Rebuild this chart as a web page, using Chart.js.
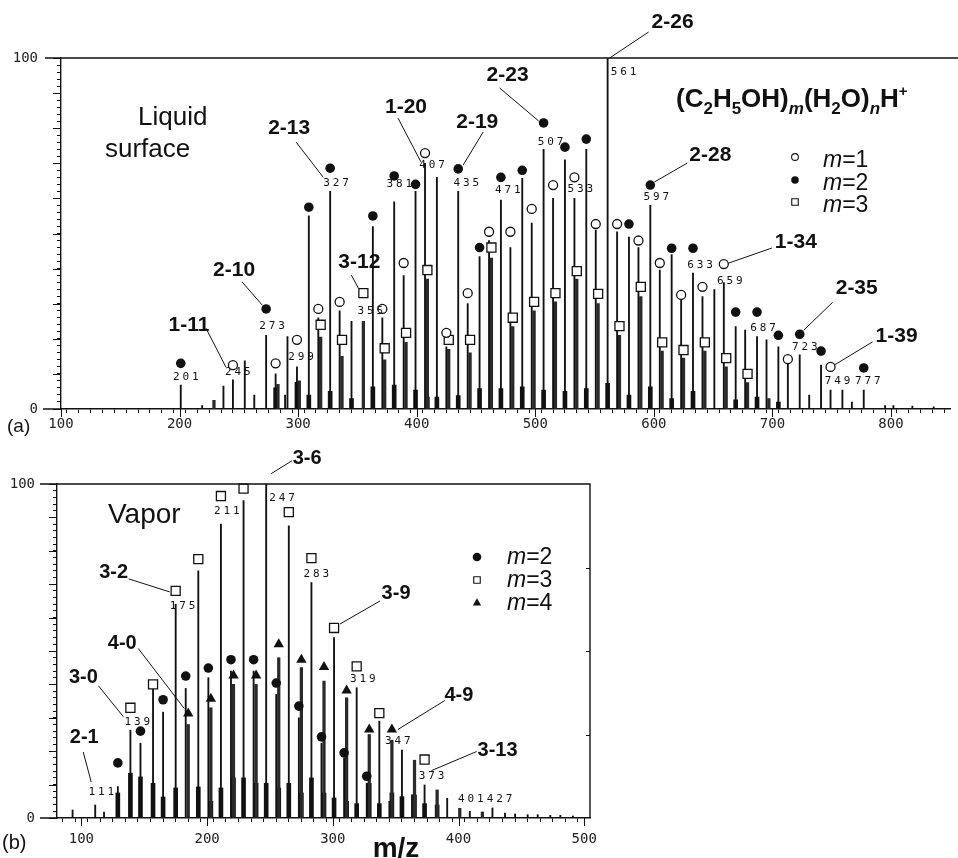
<!DOCTYPE html>
<html>
<head>
<meta charset="utf-8">
<title>(C2H5OH)m(H2O)nH+ spectra</title>
<script src="https://cdn.jsdelivr.net/npm/chart.js@4.4.1/dist/chart.umd.min.js"></script>
<style>
	html, body { margin: 0; padding: 0; background: #fff; }
	#wrap { position: relative; width: 958px; height: 858px; overflow: hidden; }
	#liquid { position: absolute; left: 0; top: 0; }
	#vapor { position: absolute; left: 0; top: 440px; }
</style>
</head>
<body>
<div id="wrap">
	<canvas id="liquid" width="958" height="440"></canvas>
	<canvas id="vapor" width="958" height="418"></canvas>
</div>
<script>
'use strict';

/* ---------- (a) liquid surface ---------- */
const liqXLabels = [100, 200, 300, 400, 500, 600, 700, 800];
const liqYLabels = [0, 100];

// symbols: m/z and height where the symbol sits
const liqM1Mass = [245, 281, 299, 317, 335, 371, 389, 407, 425, 443, 461, 479, 497, 515, 533, 551, 569, 587, 605, 623, 641, 659, 713, 749];
const liqM1Mark = [12.5, 13, 19.7, 28.5, 30.5, 28.5, 41.6, 72.9, 21.7, 33, 50.5, 50.5, 57, 63.8, 66, 52.7, 52.7, 48, 41.6, 32.5, 34.8, 41.3, 14.2, 12];
const liqM2Mass = [201, 273, 309, 327, 363, 381, 399, 435, 453, 471, 489, 507, 525, 543, 561, 579, 597, 615, 633, 669, 687, 705, 723, 741, 777];
const liqM2Mark = [13, 28.5, 57.5, 68.6, 55, 66.4, 64, 68.4, 46, 66, 68, 81.5, 74.6, 76.9, 103.7, 52.7, 63.8, 45.8, 45.8, 27.6, 27.6, 21, 21.3, 16.5, 11.7];
const liqM3Mass = [319, 337, 355, 373, 391, 409, 427, 445, 463, 481, 499, 517, 535, 553, 571, 589, 607, 625, 643, 661, 679];
const liqM3Mark = [24, 19.7, 33, 17.3, 21.7, 39.6, 19.7, 19.7, 46, 26, 30.5, 33, 39.3, 32.8, 23.6, 34.8, 19, 16.8, 19, 14.5, 10];

// sticks (peak tops), marked or not
const liqStickM1Mass = [245, 263, 281, 299, 317, 335, 371, 389, 407, 425, 443, 461, 479, 497, 515, 533, 551, 569, 587, 605, 623, 641, 659, 677, 695, 713, 731, 749, 767];
const liqStickM1 = [8.3, 4, 10, 12, 26, 28, 26, 38, 70, 17.7, 30, 48, 46, 53, 60, 60, 51, 50.5, 46, 39.6, 31, 32, 36, 22.5, 19.7, 13, 4, 5.4, 2];
const liqStickM2Mass = [201, 219, 237, 255, 273, 291, 309, 327, 345, 363, 381, 399, 417, 435, 453, 471, 489, 507, 525, 543, 561, 579, 597, 615, 633, 651, 669, 687, 705, 723, 741, 759, 777, 795];
const liqStickM2 = [6.8, 1, 6.5, 13.7, 21, 20.6, 55, 62, 25, 52, 59, 62, 66, 62, 43.4, 59.5, 65.7, 74, 71, 74, 100, 49, 58, 44, 38.7, 34, 23.5, 20.6, 17.7, 15.4, 12.5, 5.4, 5.4, 1];
const liqStickM3Mass = [229, 283, 301, 319, 337, 355, 373, 391, 409, 427, 445, 463, 481, 499, 517, 535, 553, 571, 589, 607, 625, 643, 661, 679, 697];
const liqStickM3 = [2.5, 7, 8, 20.5, 15, 25, 14, 19, 37, 17, 16, 43, 23.5, 28, 30.5, 37, 30, 21, 32, 16.5, 14.5, 16.5, 12, 7.5, 3];
const liqOtherMass = [289, 802, 818, 836];
const liqOther = [4, 1, 0.8, 0.6];
const liqFootMass = [281, 299, 309, 327, 345, 363, 381, 399, 409, 417, 435, 453, 471, 489, 507, 525, 543, 561, 579, 597, 615, 633, 669, 687, 705];
const liqFoot = [6, 7.6, 4, 5, 3, 6.3, 6.8, 5.4, 3.4, 3.4, 3.8, 5.8, 5.8, 6.3, 5.4, 5, 5.8, 7.3, 4, 6.3, 3, 5, 2.6, 3.4, 2];

/* ---------- (b) vapor ---------- */
const vapXLabels = [100, 200, 300, 400, 500];
const vapYLabels = [0, 100];

const vapM2Mass = [129, 147, 165, 183, 201, 219, 237, 255, 273, 291, 309, 327];
const vapM2Mark = [16.5, 26, 35.4, 42.5, 44.9, 47.4, 47.4, 40.4, 33.5, 24.3, 19.5, 12.5];
const vapM3Mass = [139, 157, 175, 193, 211, 229, 247, 265, 283, 301, 319, 337, 373];
const vapM3Mark = [33, 40, 68, 77.5, 96.4, 98.6, 103.4, 91.6, 77.8, 56.9, 45.4, 31.4, 17.5];
const vapM4Mass = [185, 203, 221, 239, 257, 275, 293, 311, 329, 347];
const vapM4Mark = [31.3, 35.7, 42.7, 42.7, 52, 47.4, 45.2, 38.2, 26.5, 26.5];

const vapStickM2Mass = [111, 129, 147, 165, 183, 201, 219, 237, 255, 273, 291, 309, 327, 345, 363];
const vapStickM2 = [3.9, 9.4, 22.4, 31.7, 38.8, 42, 44, 44, 37, 30, 22.4, 18, 10.4, 5, 6.9];
const vapStickM3Mass = [139, 157, 175, 193, 211, 229, 247, 265, 283, 301, 319, 337, 355, 373, 391, 409, 427];
const vapStickM3 = [26.3, 38.5, 64, 74, 88, 95, 100, 87.5, 70.5, 54, 39, 29, 20.3, 9.9, 5.9, 2, 3];
const vapStickM4Mass = [185, 203, 221, 239, 257, 275, 293, 311, 329, 347, 365, 383, 401, 419];
const vapStickM4 = [28, 33, 40, 40, 48, 45, 41, 36, 25, 23.3, 17.3, 8.4, 2.9, 1.8];
const vapOtherMass = [93, 118, 437, 445, 455, 463, 473, 481, 491];
const vapOther = [2.4, 1.8, 1.5, 1.2, 1, 1, 0.8, 0.8, 0.6];
const vapFootMass = [129, 139, 147, 157, 165, 175, 193, 203, 211, 221, 229, 239, 247, 257, 265, 275, 283, 293, 301, 311, 319, 329, 337, 347, 355, 365, 373, 383];
const vapFoot = [7.5, 13.4, 12.3, 10.4, 6.3, 9, 9.3, 5, 9, 12, 12, 10.4, 10.4, 9, 10.4, 7.5, 12, 7.5, 6, 5, 4.3, 10.4, 4.3, 7.5, 6.4, 6.9, 4.3, 3.9];

/* ---------- labels ---------- */
// [text, series, m/z, dx, dy]  (offsets in px from the symbol)
const liqMassLabels = [
	['201', 'm2', 201, 5, 14], ['245', 'm1', 245, 5, 7], ['273', 'm2', 273, 6, 17], ['299', 'm1', 299, 4, 17],
	['327', 'm2', 327, 6, 15], ['355', 'm3', 355, 7, 18], ['381', 'm2', 381, 5, 8], ['407', 'm1', 407, 7, 12],
	['435', 'm2', 435, 8, 14], ['471', 'm2', 471, 7, 13], ['507', 'm2', 507, 7, 19], ['533', 'm1', 533, 6, 12],
	['561', 'm2', 561, 16, 27], ['597', 'm2', 597, 6, 12], ['633', 'm2', 633, 7, 17], ['659', 'm1', 659, 6, 17],
	['687', 'm2', 687, 6, 16], ['723', 'm2', 723, 5, 13], ['749', 'm1', 749, 7, 14], ['777', 'm2', 777, 4, 13]
];
const vapMassLabels = [
	['111', 's2', 111, 6, -13], ['139', 'm3', 139, 7, 14], ['175', 'm3', 175, 7, 15], ['211', 'm3', 211, 6, 15],
	['247', 'm3', 247, 16, 25], ['283', 'm3', 283, 5, 16], ['319', 'm3', 319, 6, 13], ['347', 'm4', 347, 6, 12],
	['373', 'm3', 373, 7, 17], ['401', 's4', 401, 11, -9], ['427', 's3', 427, 7, -9]
];

// [text, series, m/z, label dx, dy, line x1, y1, x2, y2]
const liqNotes = [
	['1-11', 'm1', 245, -44, -40, -27, -37, -7, 2],
	['2-10', 'm2', 273, -32, -39, -24, -27, -4, -4],
	['2-13', 'm2', 327, -41, -40, -34, -26, -7, 9],
	['3-12', 'm3', 355, -4, -31, -12, -18, -5, -5],
	['1-20', 'm1', 407, -19, -46, -27, -35, -4, 9],
	['2-19', 'm2', 435, 19, -47, 25, -37, 5, -4],
	['2-23', 'm2', 507, -36, -48, -44, -35, -5, -2],
	['2-26', 'm2', 561, 65, -23, 41, -13, 2, 13],
	['2-28', 'm2', 597, 60, -30, 37, -22, 4, -3],
	['1-34', 'm1', 659, 72, -22, 48, -16, 5, -1],
	['2-35', 'm2', 723, 57, -46, 33, -32, 4, -4],
	['1-39', 'm1', 749, 66, -31, 42, -25, 4, -2]
];
const vapNotes = [
	['2-1', 's2', 111, -11, -67, -12, -53, -4, -23],
	['3-0', 'm3', 139, -47, -30, -32, -22, -7, 9],
	['3-2', 'm3', 175, -62, -18, -47, -12, -6, 1],
	['4-0', 'm4', 185, -66, -70, -50, -65, -4, -5],
	['3-6', 'm3', 247, 41, -14, 26, -12, 5, 1],
	['3-9', 'm3', 301, 62, -34, 46, -27, 6, -4],
	['4-9', 'm4', 347, 67, -34, 53, -29, 6, 0],
	['3-13', 'm3', 373, 73, -9, 52, -8, 7, 11]
];

const SANS = '"Liberation Sans", Arial, sans-serif';
const MONO = '"DejaVu Sans Mono", monospace';
const INK = '#111';

const openCircle = { pointStyle: 'circle', pointRadius: 4.5, pointBackgroundColor: '#fff', pointBorderColor: INK, pointBorderWidth: 1.3 };
const dot = { pointStyle: 'circle', pointRadius: 4.8, pointBackgroundColor: INK, pointBorderColor: INK, pointBorderWidth: 0 };
const openSquare = { pointStyle: 'rect', pointRadius: 6.4, pointBackgroundColor: '#fff', pointBorderColor: INK, pointBorderWidth: 1.3 };
const triangle = { pointStyle: 'triangle', pointRadius: 6, pointBackgroundColor: INK, pointBorderColor: INK, pointBorderWidth: 0 };

/**
 * Zip m/z and heights into {x, y} points
 */
function points(masses, values) {
	return masses.map((m, i) => ({ x: m, y: values[i] }));
}

/**
 * Vertical sticks drawn as thin bars on the linear m/z axis
 */
function stickSet(masses, values, width, color) {
	return {
		type: 'bar',
		data: points(masses, values),
		barThickness: width,
		backgroundColor: color,
		borderWidth: 0,
		grouped: false,
		order: 2
	};
}

/**
 * Symbols above the peaks
 */
function markSet(masses, values, style) {
	return Object.assign({
		type: 'scatter',
		data: points(masses, values),
		showLine: false,
		clip: false,
		order: 0,
		pointHoverRadius: style.pointRadius
	}, style);
}

/**
 * Axis setup: Chart.js draws minor ticks and the labels, box sizes are fixed
 */
function axes(o) {
	const tickFont = { family: MONO, size: 14 };
	return {
		x: {
			type: 'linear',
			min: o.xMin,
			max: o.xMax,
			offset: false,
			afterFit: s => { s.height = o.xHeight; },
			border: { color: INK, width: 1.4 },
			grid: { drawOnChartArea: false, tickLength: 4, color: INK, lineWidth: 1 },
			ticks: {
				stepSize: 10, autoSkip: false, maxRotation: 0, includeBounds: false,
				padding: o.xPad, color: '#222', font: tickFont,
				callback: v => o.xLabels.includes(v) ? String(v) : ''
			}
		},
		y: {
			type: 'linear',
			min: 0,
			max: 100,
			afterFit: s => { s.width = o.yWidth; },
			border: { color: INK, width: 1.4 },
			grid: { drawOnChartArea: false, tickLength: 4, color: INK, lineWidth: 1 },
			ticks: {
				stepSize: 2, autoSkip: false, includeBounds: false,
				padding: o.yPad, color: '#222', font: tickFont,
				callback: v => o.yLabels.includes(v) ? String(v) : ''
			}
		}
	};
}

/**
 * Spaced-out mass number like the instrument print-out
 */
function massText(ctx, text, cx, cy) {
	const pitch = 9.5;
	ctx.font = '11px ' + MONO;
	ctx.textAlign = 'center';
	ctx.textBaseline = 'middle';
	const start = cx - (text.length - 1) * pitch / 2;
	for (let i = 0; i < text.length; i++) {
		ctx.fillText(text[i], start + i * pitch, cy);
	}
}

/**
 * m=k legend row, italic m
 */
function legendRow(ctx, style, sx, sy, tx, ty, k) {
	ctx.fillStyle = style.fill;
	ctx.strokeStyle = INK;
	ctx.lineWidth = style.borderWidth;
	Chart.helpers.drawPoint(ctx, { pointStyle: style.pointStyle, radius: style.radius, rotation: 0, borderWidth: style.borderWidth }, sx, sy);
	ctx.fillStyle = INK;
	ctx.textAlign = 'left';
	ctx.textBaseline = 'alphabetic';
	ctx.font = 'italic 23px ' + SANS;
	ctx.fillText('m', tx, ty);
	const w = ctx.measureText('m').width;
	ctx.font = '23px ' + SANS;
	ctx.fillText('=' + k, tx + w, ty);
}

/**
 * Frame, long ticks, peak labels and text for one panel
 */
function decorPlugin(panel) {
	return {
		id: 'decor',
		afterDraw(chart) {
			const ctx = chart.ctx;
			const xs = chart.scales.x;
			const ys = chart.scales.y;
			const a = chart.chartArea;
			const anchor = (key, m) => {
				const [ms, vs] = panel.series[key];
				return [xs.getPixelForValue(m), ys.getPixelForValue(vs[ms.indexOf(m)])];
			};

			ctx.save();
			ctx.strokeStyle = INK;
			ctx.fillStyle = INK;

			// long ticks every 10 % and every 100 m/z
			ctx.lineWidth = 1;
			ctx.beginPath();
			for (let v = 0; v <= 100; v += 10) {
				const y = Math.round(ys.getPixelForValue(v)) + 0.5;
				ctx.moveTo(a.left - 8, y);
				ctx.lineTo(a.left, y);
			}
			panel.xLabels.forEach(m => {
				const x = Math.round(xs.getPixelForValue(m)) + 0.5;
				ctx.moveTo(x, a.bottom);
				ctx.lineTo(x, a.bottom + 8);
			});
			ctx.stroke();

			panel.frame(ctx, a, ys);

			// leader lines and cluster labels
			ctx.lineWidth = 1;
			panel.notes.forEach(([text, key, m, lx, ly, x1, y1, x2, y2]) => {
				const [px, py] = anchor(key, m);
				ctx.beginPath();
				ctx.moveTo(px + x1, py + y1);
				ctx.lineTo(px + x2, py + y2);
				ctx.stroke();
				ctx.font = 'bold ' + panel.noteSize + 'px ' + SANS;
				ctx.textAlign = 'center';
				ctx.textBaseline = 'middle';
				ctx.fillText(text, px + lx, py + ly);
			});

			panel.massLabels.forEach(([text, key, m, dx, dy]) => {
				const [px, py] = anchor(key, m);
				massText(ctx, text, px + dx, py + dy);
			});

			panel.text(ctx);
			ctx.restore();
		}
	};
}

/**
 * Build one panel
 */
function makePanel(id, datasets, opts, panel) {
	return new Chart(document.getElementById(id), {
		type: 'scatter',
		data: { datasets: datasets },
		options: {
			responsive: false,
			animation: false,
			events: [],
			layout: { padding: opts.padding },
			plugins: { legend: { display: false }, tooltip: { enabled: false } },
			scales: axes(opts)
		},
		plugins: [decorPlugin(panel)]
	});
}

makePanel('liquid', [
	markSet(liqM1Mass, liqM1Mark, openCircle),
	markSet(liqM2Mass, liqM2Mark, dot),
	markSet(liqM3Mass, liqM3Mark, openSquare),
	stickSet(liqStickM1Mass, liqStickM1, 1.2, INK),
	stickSet(liqStickM2Mass, liqStickM2, 1.2, INK),
	stickSet(liqStickM3Mass, liqStickM3, 2.6, '#2a2a2a'),
	stickSet(liqOtherMass, liqOther, 1.2, INK),
	stickSet(liqFootMass, liqFoot, 4, INK)
], {
	xMin: 100, xMax: 850, xLabels: liqXLabels, yLabels: liqYLabels,
	xHeight: 31, yWidth: 61, xPad: 3, yPad: 19,
	padding: { top: 58, right: 3, bottom: 0, left: 0 }
}, {
	xLabels: liqXLabels,
	series: { m1: [liqM1Mass, liqM1Mark], m2: [liqM2Mass, liqM2Mark], m3: [liqM3Mass, liqM3Mark] },
	notes: liqNotes,
	noteSize: 21,
	massLabels: liqMassLabels,
	frame(ctx, a) {
		ctx.lineWidth = 1.4;
		ctx.beginPath();
		ctx.moveTo(45, a.top);
		ctx.lineTo(958, a.top);
		ctx.moveTo(43, a.bottom);
		ctx.lineTo(a.left, a.bottom);
		ctx.stroke();
	},
	text(ctx) {
		ctx.textAlign = 'left';
		ctx.textBaseline = 'alphabetic';
		ctx.font = '26px ' + SANS;
		ctx.fillText('Liquid', 138, 125);
		ctx.fillText('surface', 105, 157);

		// (C2H5OH)m(H2O)nH+
		const parts = [['(C', 'n'], ['2', 's'], ['H', 'n'], ['5', 's'], ['OH)', 'n'], ['m', 'si'],
			['(H', 'n'], ['2', 's'], ['O)', 'n'], ['n', 'si'], ['H', 'n'], ['+', 'p']];
		let x = 676;
		parts.forEach(([t, k]) => {
			let y = 107;
			if (k === 'n') ctx.font = 'bold 26px ' + SANS;
			if (k === 's') { ctx.font = 'bold 17px ' + SANS; y = 114; }
			if (k === 'si') { ctx.font = 'italic bold 17px ' + SANS; y = 114; }
			if (k === 'p') { ctx.font = 'bold 15px ' + SANS; y = 96; }
			ctx.fillText(t, x, y);
			x += ctx.measureText(t).width;
		});

		legendRow(ctx, { pointStyle: 'circle', radius: 3.4, fill: '#fff', borderWidth: 1.1 }, 795, 157, 823, 167, 1);
		legendRow(ctx, { pointStyle: 'circle', radius: 3.8, fill: INK, borderWidth: 0 }, 795, 180, 823, 190, 2);
		legendRow(ctx, { pointStyle: 'rect', radius: 4.6, fill: '#fff', borderWidth: 1.1 }, 795, 202, 823, 212, 3);

		ctx.font = '19px ' + SANS;
		ctx.fillText('(a)', 7, 432);
	}
});

makePanel('vapor', [
	markSet(vapM2Mass, vapM2Mark, dot),
	markSet(vapM3Mass, vapM3Mark, openSquare),
	markSet(vapM4Mass, vapM4Mark, triangle),
	stickSet(vapStickM2Mass, vapStickM2, 1.2, INK),
	stickSet(vapStickM3Mass, vapStickM3, 1.2, INK),
	stickSet(vapStickM4Mass, vapStickM4, 2.6, '#2a2a2a'),
	stickSet(vapOtherMass, vapOther, 1.2, INK),
	stickSet(vapFootMass, vapFoot, 4, INK)
], {
	xMin: 80.6, xMax: 504.6, xLabels: vapXLabels, yLabels: vapYLabels,
	xHeight: 40, yWidth: 57, xPad: 9, yPad: 18,
	padding: { top: 44, right: 368, bottom: 0, left: 0 }
}, {
	xLabels: vapXLabels,
	series: {
		m2: [vapM2Mass, vapM2Mark], m3: [vapM3Mass, vapM3Mark], m4: [vapM4Mass, vapM4Mark],
		s2: [vapStickM2Mass, vapStickM2], s3: [vapStickM3Mass, vapStickM3], s4: [vapStickM4Mass, vapStickM4]
	},
	notes: vapNotes,
	noteSize: 20,
	massLabels: vapMassLabels,
	frame(ctx, a, ys) {
		ctx.lineWidth = 1.4;
		ctx.beginPath();
		ctx.moveTo(40, a.top);
		ctx.lineTo(a.right, a.top);
		ctx.lineTo(a.right, a.bottom);
		ctx.moveTo(40, a.bottom);
		ctx.lineTo(a.left, a.bottom);
		ctx.stroke();
		ctx.lineWidth = 1;
		ctx.beginPath();
		[25, 50, 75].forEach(v => {
			const y = Math.round(ys.getPixelForValue(v)) + 0.5;
			ctx.moveTo(a.right - 4, y);
			ctx.lineTo(a.right, y);
		});
		ctx.stroke();
	},
	text(ctx) {
		ctx.textAlign = 'left';
		ctx.textBaseline = 'alphabetic';
		ctx.font = '28px ' + SANS;
		ctx.fillText('Vapor', 108, 83);

		legendRow(ctx, { pointStyle: 'circle', radius: 4.3, fill: INK, borderWidth: 0 }, 477, 117, 507, 124, 2);
		legendRow(ctx, { pointStyle: 'rect', radius: 4.6, fill: '#fff', borderWidth: 1.1 }, 477, 140, 507, 147, 3);
		legendRow(ctx, { pointStyle: 'triangle', radius: 4.8, fill: INK, borderWidth: 0 }, 477, 163, 507, 170, 4);

		ctx.font = '20px ' + SANS;
		ctx.fillText('(b)', 2, 409);
		ctx.font = 'bold 28px ' + SANS;
		ctx.textAlign = 'center';
		ctx.fillText('m/z', 396, 417);
	}
});
</script>
</body>
</html>
